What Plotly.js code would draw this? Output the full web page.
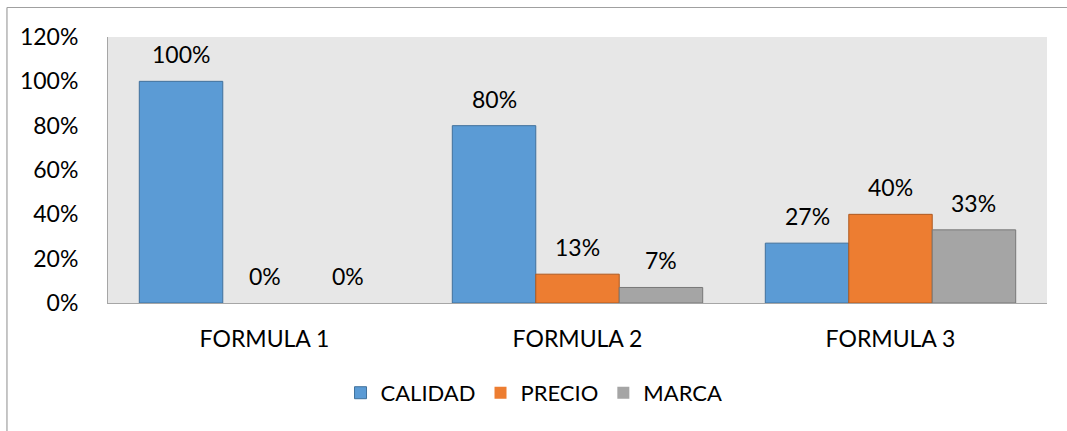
<!DOCTYPE html>
<html>
<head>
<meta charset="utf-8">
<script src="https://cdn.plot.ly/plotly-3.0.1.min.js"></script>
<style>
html,body{margin:0;padding:0;background:#fff;}
#chart{width:1067px;height:431px;}
</style>
</head>
<body>
<div id="chart"></div>
<script>
const categories = ['FORMULA 1', 'FORMULA 2', 'FORMULA 3'];
const seriesNames = ['CALIDAD', 'PRECIO', 'MARCA'];
const calidad = [1.00, 0.80, 0.27];
const precio = [0.00, 0.13, 0.40];
const marca = [0.00, 0.07, 0.33];
const yTicks = [0, 0.2, 0.4, 0.6, 0.8, 1.0, 1.2];

const fills = ['#5b9bd5', '#ed7d31', '#a5a5a5'];
const lines = ['#41719c', '#ae5a21', '#787878'];
const allSeries = [calidad, precio, marca];
const FONT = 'Lato, "Open Sans", sans-serif';

const traces = allSeries.map((vals, i) => ({
  type: 'bar',
  name: seriesNames[i],
  x: categories,
  y: vals,
  marker: {color: fills[i], line: {color: lines[i], width: vals.map(v => v > 0 ? 1 : 0)}},
  hoverinfo: 'none'
}));

const groupW = 0.8;
const barW = groupW / allSeries.length;
const annotations = [];
allSeries.forEach((vals, j) => {
  vals.forEach((v, i) => {
    annotations.push({
      xref: 'x', yref: 'y',
      x: i + (j - (allSeries.length - 1) / 2) * barW,
      y: v,
      text: Math.round(v * 100) + '%',
      showarrow: false,
      yanchor: 'bottom',
      yshift: 11,
      font: {family: FONT, size: 23, color: '#000'}
    });
  });
});

const layout = {
  width: 1067, height: 431,
  margin: {l: 108, r: 20, t: 37, b: 128},
  paper_bgcolor: 'rgba(0,0,0,0)',
  plot_bgcolor: '#e7e7e7',
  barmode: 'group',
  bargap: 0.2,
  bargroupgap: 0,
  showlegend: true,
  legend: {
    orientation: 'h', x: 0.4537, xanchor: 'center', y: -0.338, yanchor: 'middle',
    font: {family: FONT, size: 22, color: '#000'},
    traceorder: 'normal'
  },
  xaxis: {
    type: 'category',
    showline: true, linecolor: '#a6a6a6', linewidth: 1,
    showgrid: false, zeroline: false, ticks: '',
    tickfont: {family: FONT, size: 23, color: '#000'},
    ticklabelstandoff: 15
  },
  yaxis: {
    range: [0, 1.2],
    tickvals: yTicks,
    tickformat: '.0%',
    showline: true, linecolor: '#a6a6a6', linewidth: 1,
    showgrid: false, zeroline: false, ticks: '',
    tickfont: {family: FONT, size: 23, color: '#000'},
    ticklabelstandoff: 24
  },
  annotations: annotations,
  shapes: [
    {type: 'line', xref: 'paper', yref: 'paper', x0: -0.1076, x1: 1.05, y0: 1.1109, y1: 1.1109,
     line: {color: '#a0a0a0', width: 1.2}},
    {type: 'line', xref: 'paper', yref: 'paper', x0: -0.1076, x1: -0.1076, y0: 1.1109, y1: -0.6,
     line: {color: '#a0a0a0', width: 1.2}}
  ]
};

Plotly.newPlot('chart', traces, layout, {displayModeBar: false, staticPlot: true});
</script>
</body>
</html>
